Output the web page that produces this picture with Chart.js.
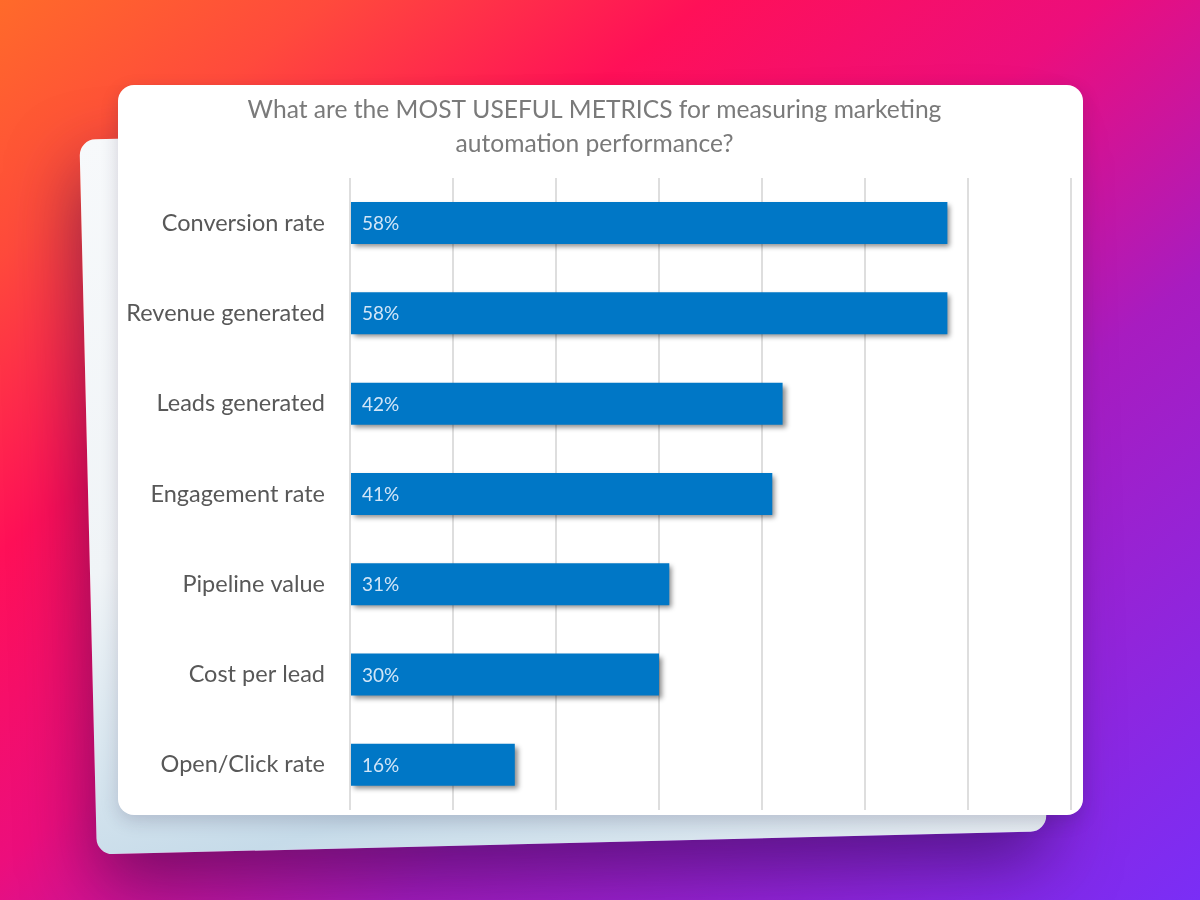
<!DOCTYPE html>
<html>
<head>
<meta charset="utf-8">
<script src="https://cdn.jsdelivr.net/npm/chart.js@4.4.0/dist/chart.umd.min.js"></script>
<style>
  html, body { margin: 0; padding: 0; }
  body {
    width: 1200px; height: 900px; overflow: hidden; position: relative;
    background: linear-gradient(142deg, #ff6a2a 0%, #ff4a3c 14%, #ff1058 30%, #ec0e7c 47%, #a81cc0 66%, #7a2ef6 100%);
    font-family: Lato, "Open Sans", sans-serif;
  }
  #back {
    position: absolute; left: 88px; top: 128px; width: 950px; height: 715px;
    border-radius: 16px;
    background: linear-gradient(165deg, #f7f9fb 0%, #f0f4f7 45%, #c6dbe9 78%, #e6edf2 100%);
    transform: rotate(-1.4deg);
    box-shadow: 0 30px 70px rgba(40, 8, 70, 0.55);
  }
  #card {
    position: absolute; left: 118px; top: 85px; width: 965px; height: 730px;
    background: #fff; border-radius: 16px;
    box-shadow: 0 6px 18px rgba(40, 20, 60, 0.18);
  }
  #wrap { position: absolute; left: 0; top: 0; width: 965px; height: 730px; }
</style>
</head>
<body>
<div id="back"></div>
<div id="card"><div id="wrap"><canvas id="c"></canvas></div></div>
<script>
const categories = ["Conversion rate", "Revenue generated", "Leads generated", "Engagement rate", "Pipeline value", "Cost per lead", "Open/Click rate"];
const values = [58, 58, 42, 41, 31, 30, 16];
const titleLines = ["What are the MOST USEFUL METRICS for measuring marketing", "automation performance?"];
const xMin = 0, xMax = 70, xStep = 10;

const barShadow = {
  id: 'barShadow',
  beforeDatasetDraw(chart) {
    const ctx = chart.ctx;
    ctx.save();
    ctx.shadowColor = 'rgba(0,0,0,0.45)';
    ctx.shadowBlur = 5;
    ctx.shadowOffsetX = 3;
    ctx.shadowOffsetY = 3;
  },
  afterDatasetDraw(chart) { chart.ctx.restore(); }
};

const barLabels = {
  id: 'barLabels',
  afterDatasetsDraw(chart) {
    const ctx = chart.ctx;
    const meta = chart.getDatasetMeta(0);
    ctx.save();
    ctx.font = '19px Lato, sans-serif';
    ctx.fillStyle = 'rgba(220,235,250,0.95)';
    ctx.textBaseline = 'middle';
    ctx.textAlign = 'left';
    meta.data.forEach((bar, i) => {
      ctx.fillText(values[i] + '%', chart.chartArea.left + 12, bar.y + 1);
    });
    ctx.restore();
  }
};

new Chart(document.getElementById('c'), {
  type: 'bar',
  data: {
    labels: categories,
    datasets: [{
      data: values,
      backgroundColor: '#0077c6',
      borderWidth: 0,
      barPercentage: 0.465,
      categoryPercentage: 1.0
    }]
  },
  options: {
    indexAxis: 'y',
    responsive: true,
    maintainAspectRatio: false,
    animation: false,
    layout: { padding: { left: 0, right: 12, top: 0, bottom: 5 } },
    plugins: {
      legend: { display: false },
      tooltip: { enabled: false },
      title: {
        display: true,
        text: titleLines,
        color: '#7a7a7a',
        font: { family: 'Lato, sans-serif', size: 24.6, weight: 'normal', lineHeight: 1.38 },
        padding: { top: 8, bottom: 17 }
      }
    },
    scales: {
      x: {
        min: xMin, max: xMax,
        ticks: { display: false, stepSize: xStep },
        grid: { color: '#dedede', lineWidth: 2, drawTicks: false },
        border: { display: false },
        afterFit(scale) { scale.height = 0; scale.paddingLeft = 0; scale.paddingRight = 0; }
      },
      y: {
        ticks: { color: '#585858', font: { family: 'Lato, sans-serif', size: 23.5 }, padding: 25 },
        grid: { display: false, drawTicks: false },
        border: { display: false },
        afterFit(scale) { scale.width = 232; scale.paddingTop = 0; scale.paddingBottom = 0; }
      }
    }
  },
  plugins: [barShadow, barLabels]
});
</script>
</body>
</html>
